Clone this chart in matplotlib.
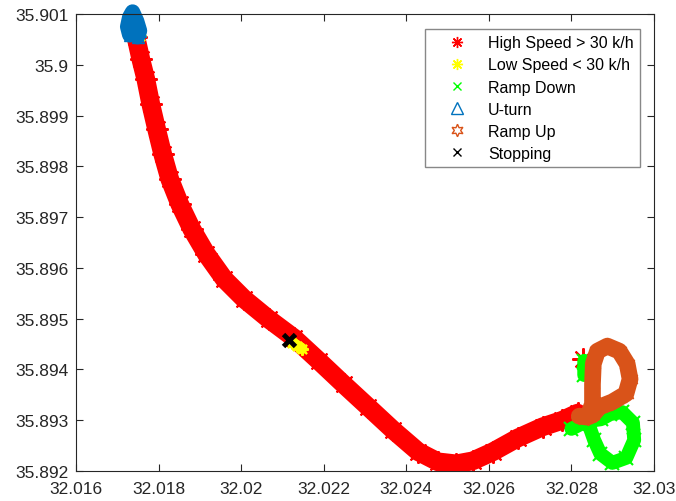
import numpy as np
import matplotlib
matplotlib.use('Agg')
import matplotlib.pyplot as plt
from matplotlib.lines import Line2D
from matplotlib.ticker import FuncFormatter

plt.rcParams['font.family'] = ['Liberation Sans', 'DejaVu Sans']

# GPS track, one array pair per driving state (lon, lat)
high_lon = [32.01745, 32.01757, 32.01769, 32.01781, 32.01795, 32.01810, 32.01827,
            32.01851, 32.01880, 32.01916, 32.01959, 32.02007, 32.02067, 32.02128,
            32.02188, 32.02248, 32.02308, 32.02369, 32.02429, 32.02477, 32.02521,
            32.02561, 32.02610, 32.02670, 32.02730, 32.02778, 32.02815, np.nan, 32.02827]
high_lat = [35.90055, 35.90011, 35.89972, 35.89923, 35.89874, 35.89824, 35.89775,
            35.89726, 35.89677, 35.89627, 35.89578, 35.89539, 35.89499, 35.89462,
            35.89417, 35.89371, 35.89326, 35.89280, 35.89238, 35.89218, 35.89214,
            35.89220, 35.89238, 35.89265, 35.89287, 35.89300, 35.89314, np.nan, 35.89421]

low_lon = [32.02123, 32.02135, 32.02147, np.nan, 32.01754]
low_lat = [35.89453, 35.89447, 35.89441, np.nan, 35.90057]

down_lon = [32.02800, 32.02819, 32.02839, 32.02855, 32.02870, 32.02899, 32.02933,
            32.02952, 32.02949, 32.02923, 32.02894, 32.02872, 32.02839, np.nan,
            32.02831, 32.02831]
down_lat = [35.89283, 35.89291, 35.89298, 35.89261, 35.89234, 35.89216, 35.89226,
            35.89261, 35.89295, 35.89316, 35.89312, 35.89302, 35.89298, np.nan,
            35.89417, 35.89389]

uturn_lon = [32.01730, 32.01725, 32.01730, 32.01737, 32.01747, 32.01754, 32.01749]
uturn_lat = [35.90059, 35.90075, 35.90094, 35.90104, 35.90086, 35.90067, 35.90055]

up_lon = [32.02819, 32.02839, 32.02851, 32.02851, 32.02853, 32.02863, 32.02887,
          32.02916, 32.02935, 32.02942, 32.02932, 32.02899, 32.02868, 32.02851]
up_lat = [35.89308, 35.89306, 35.89332, 35.89371, 35.89411, 35.89436, 35.89446,
          35.89436, 35.89411, 35.89381, 35.89352, 35.89336, 35.89326, 35.89310]

stop_lon = [32.02116]
stop_lat = [35.89458]

labels = ['High Speed > 30 k/h', 'Low Speed < 30 k/h', 'Ramp Down', 'U-turn',
          'Ramp Up', 'Stopping']

red = '#FF0000'
yellow = '#FFFF00'
green = '#00FF00'
blue = '#0072BD'
orange = '#D95319'

fig = plt.figure(figsize=(6.76, 5.02), dpi=100)
ax = fig.add_axes([76/676, 1 - 472/502, 578/676, 457/502])

# thick bands (many overlapping GPS samples)
ax.plot(high_lon, high_lat, '-', color=red, lw=13.5, solid_capstyle='round')
ax.plot(high_lon, high_lat, ls='none', marker=(8, 2, 0), ms=16, mew=1.5, color=red)
ax.plot(low_lon, low_lat, '-', color=yellow, lw=8, solid_capstyle='round')
ax.plot(low_lon, low_lat, ls='none', marker=(8, 2, 0), ms=9, mew=1.5, color=yellow)
ax.plot(down_lon, down_lat, '-', color=green, lw=10, solid_capstyle='round')
ax.plot(down_lon, down_lat, ls='none', marker='x', ms=10, mew=1.5, color=green)
ax.plot(uturn_lon, uturn_lat, '-', color=blue, lw=11, solid_capstyle='round', clip_on=False)
ax.plot(uturn_lon, uturn_lat, ls='none', marker='^', ms=9, mfc='none', mew=1, color=blue, clip_on=False)
ax.plot(up_lon, up_lat, '-', color=orange, lw=12, solid_capstyle='round')
ax.plot(up_lon, up_lat, ls='none', marker=(6, 1, 0), ms=12, mfc=orange, mew=1, color=orange)
ax.plot(stop_lon, stop_lat, ls='none', marker='x', ms=9, mew=3.5, color='k')

ax.set_xlim(32.016, 32.03)
ax.set_ylim(35.892, 35.901)
ax.set_xticks(np.arange(32.016, 32.0301, 0.002))
ax.set_yticks(np.arange(35.892, 35.9011, 0.001))
fmt = FuncFormatter(lambda v, p: ('%.3f' % v).rstrip('0').rstrip('.'))
ax.xaxis.set_major_formatter(fmt)
ax.yaxis.set_major_formatter(fmt)
ax.tick_params(direction='in', top=True, right=True, length=5, width=0.8,
               labelsize=12.5, colors='#262626')
ax.tick_params(axis='x', pad=7)
ax.tick_params(axis='y', pad=5.5)
for s in ax.spines.values():
    s.set_color('#262626')
    s.set_linewidth(0.8)

handles = [
    Line2D([], [], ls='none', marker=(8, 2, 0), ms=8, mew=1, color=red),
    Line2D([], [], ls='none', marker=(8, 2, 0), ms=8, mew=1, color=yellow),
    Line2D([], [], ls='none', marker='x', ms=6, mew=1, color=green),
    Line2D([], [], ls='none', marker='^', ms=8, mfc='none', mew=1, color=blue),
    Line2D([], [], ls='none', marker=(6, 1, 0), ms=9, mfc='none', mew=1, color=orange),
    Line2D([], [], ls='none', marker='x', ms=6, mew=1, color='k'),
]
leg = ax.legend(handles, labels, loc='upper right', bbox_to_anchor=(0.9758, 0.967),
                borderaxespad=0, fontsize=11.5, handlelength=3.2, handletextpad=0.35,
                borderpad=0.4, labelspacing=0.44, fancybox=False, framealpha=1)
leg.get_frame().set_edgecolor('#888888')
leg.get_frame().set_linewidth(1)

fig.savefig('out.png', dpi=100)
